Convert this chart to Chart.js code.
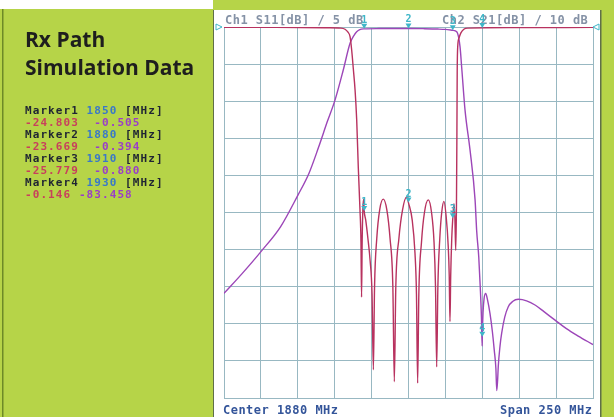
<!DOCTYPE html>
<html>
<head>
<meta charset="utf-8">
<title>Rx Path Simulation Data</title>
<script src="https://cdn.jsdelivr.net/npm/chart.js@4.4.0/dist/chart.umd.min.js"></script>
<style>
  html, body { margin: 0; padding: 0; background: #b6d448; }
  canvas { display: block; }
</style>
</head>
<body>
<canvas id="vna" width="614" height="417"></canvas>
<script>
'use strict';

// ─────────────────────────────────────────────
// 1. DATA
// ─────────────────────────────────────────────
const centerMHz = 1880;
const spanMHz   = 250;
const s11PerDiv = 5;    // dB / div
const s21PerDiv = 10;   // dB / div
const divisions = 10;

// S11 – return loss (crimson trace)
const s11Freq = [
  1755, 1790, 1825, 1834, 1837, 1839, 1840.4, 1841.5, 1842.6, 1843.8,
  1844.9, 1846.0, 1847.1, 1847.8, 1848.2, 1848.6, 1849.1, 1849.6, 1850.0, 1851.0,
  1852.5, 1854.0, 1855.3, 1856.2, 1857.0, 1858.5, 1860.5, 1862.9, 1865.3, 1867.5,
  1869.4, 1870.4, 1871.4, 1873.5, 1876.0, 1878.8, 1880.0, 1882.5, 1884.4, 1885.4,
  1886.2, 1887.0, 1888.8, 1890.8, 1893.4, 1895.6, 1897.3, 1898.3, 1899.1, 1899.9,
  1901.2, 1902.5, 1904.0, 1905.5, 1906.9, 1907.6, 1908.1, 1908.6, 1909.3, 1910.0,
  1910.8, 1911.4, 1912.0, 1912.5, 1912.8, 1913.0, 1913.4, 1914.2, 1915.5, 1917.5,
  1920, 1950, 2005,
];
const s11Db = [
  -0.05, -0.05, -0.1, -0.15, -0.3, -0.7, -1.3, -3.1, -5.6, -8.5,
  -12.5, -19.0, -24.5, -29.0, -36.4, -29.0, -24.5, -23.2, -24.8, -26.0,
  -28.5, -31.5, -36.0, -46.2, -35.0, -28.5, -24.6, -23.2, -24.6, -28.5,
  -35.0, -47.8, -35.0, -28.5, -24.6, -22.9, -23.7, -26.0, -30.5, -36.0,
  -48.0, -36.0, -29.0, -25.0, -23.3, -25.0, -29.0, -35.0, -45.8, -35.0,
  -28.5, -25.0, -23.5, -25.5, -29.5, -33.5, -39.7, -33.5, -28.5, -25.8,
  -23.8, -25.5, -30.1, -24.0, -14.0, -6.0, -2.5, -1.5, -0.8, -0.3,
  -0.15, -0.08, -0.05,
];

// S21 – insertion loss (purple trace)
const s21Freq = [
  1755, 1767.4, 1779.9, 1793.4, 1805.1, 1812.6, 1819.0, 1825.0, 1830.2, 1835.8,
  1840.4, 1843.0, 1844.9, 1847.0, 1850.0, 1860.0, 1870.0, 1880.0, 1890.0, 1900.0,
  1905.0, 1910.0, 1912.7, 1914.9, 1916.0, 1918.3, 1921.7, 1925.1, 1926.2, 1927.6,
  1928.6, 1929.4, 1929.9, 1930.0, 1930.5, 1931.2, 1932.3, 1933.5, 1935.2, 1936.8,
  1938.1, 1939.2, 1939.8, 1940.4, 1940.8, 1942.0, 1943.1, 1945.2, 1947.6, 1950.5,
  1954.4, 1960.0, 1966.0, 1972.0, 1979.3, 1987.0, 1995.0, 2005.0,
];
const s21Db = [
  -71.8, -66.4, -60.6, -53.8, -45.3, -39.4, -32.5, -25.5, -19.7, -11.6,
  -4.4, -2.3, -1.3, -0.7, -0.505, -0.42, -0.4, -0.394, -0.45, -0.55,
  -0.65, -0.88, -1.3, -5.3, -10.7, -22.4, -33.2, -46.6, -55.0, -62.0,
  -70.0, -78.0, -86.0, -83.5, -77.0, -73.2, -71.8, -73.5, -77.2, -82.0,
  -87.1, -92.0, -98.0, -95.0, -91.6, -86.0, -82.6, -78.2, -75.4, -74.0,
  -73.4, -73.8, -75.0, -76.8, -79.0, -81.3, -83.3, -85.6,
];

// markers
const markerFreq = [1850, 1880, 1910, 1930];
const markerS11  = [-24.803, -23.669, -25.779, -0.146];
const markerS21  = [-0.505, -0.394, -0.880, -83.458];

// ─────────────────────────────────────────────
// 2. COLOURS & HELPERS
// ─────────────────────────────────────────────
const GREEN    = '#b6d448';
const GRID     = '#98b8c2';
const S11_COL  = '#b8325f';
const S21_COL  = '#9c46b8';
const MARK_COL = '#3fb6c8';
const PITCH    = 7.7;

const fMin = centerMHz - spanMHz / 2;
const fMax = centerMHz + spanMHz / 2;

function mono(ctx, text, x, y, color) {
  ctx.fillStyle = color;
  for (let i = 0; i < text.length; i++) {
    ctx.fillText(text[i], x + i * PITCH, y);
  }
}

// ─────────────────────────────────────────────
// 3. BACKDROP + TEXT PLUGIN
// ─────────────────────────────────────────────
const vnaScreen = {
  id: 'vnaScreen',
  beforeDraw(chart) {
    const { ctx } = chart;
    ctx.save();
    ctx.fillStyle = GREEN;
    ctx.fillRect(0, 0, 614, 417);
    ctx.fillStyle = '#ffffff';
    ctx.fillRect(0, 0, 213, 9);
    ctx.fillStyle = '#6d8a26';
    ctx.fillRect(2, 9, 1.5, 408);

    // analyzer screen
    ctx.fillStyle = '#ffffff';
    ctx.fillRect(214, 10, 387, 407);
    ctx.fillStyle = '#5f6f48';
    ctx.fillRect(213, 10, 1, 407);
    ctx.fillRect(600, 10, 1.5, 407);

    // left panel title
    ctx.fillStyle = '#1e1e1e';
    ctx.font = 'bold 21px "Open Sans"';
    ctx.textBaseline = 'alphabetic';
    ctx.fillText('Rx Path', 25, 47);
    ctx.fillText('Simulation Data', 25, 75);

    // marker readout
    ctx.font = 'bold 11px "DejaVu Sans Mono"';
    markerFreq.forEach((f, i) => {
      const y = 114 + i * 24;
      mono(ctx, 'Marker' + (i + 1), 25, y, '#1f2433');
      mono(ctx, String(f), 25 + 8 * PITCH, y, '#3a78c8');
      mono(ctx, '[MHz]', 25 + 13 * PITCH, y, '#1f2433');
      const a = markerS11[i].toFixed(3);
      const b = markerS21[i].toFixed(3);
      mono(ctx, a, 25, y + 12, '#c8405c');
      mono(ctx, b, 25 + (a.length + (a.length > 6 ? 2 : 1)) * PITCH, y + 12, '#9a3ec8');
    });
    ctx.restore();
  },
  afterDraw(chart) {
    const { ctx, chartArea: area } = chart;
    const xs = chart.scales.x, y1 = chart.scales.y, y2 = chart.scales.y2;
    ctx.save();

    // header / footer
    ctx.font = 'bold 12px "DejaVu Sans Mono"';
    mono(ctx, 'Ch1 S11[dB] / ' + s11PerDiv + ' dB', 225, 24, '#8592a6');
    mono(ctx, 'Ch2 S21[dB] / ' + s21PerDiv + ' dB', 442, 24, '#8592a6');
    mono(ctx, 'Center ' + centerMHz + ' MHz', 223, 414, '#34559a');
    mono(ctx, 'Span ' + spanMHz + ' MHz', 500, 414, '#34559a');

    // reference level arrows
    ctx.strokeStyle = MARK_COL;
    ctx.lineWidth = 1;
    ctx.beginPath();
    ctx.moveTo(216, area.top - 3); ctx.lineTo(222, area.top); ctx.lineTo(216, area.top + 3); ctx.closePath();
    ctx.moveTo(599, area.top - 3); ctx.lineTo(593, area.top); ctx.lineTo(599, area.top + 3); ctx.closePath();
    ctx.stroke();

    // markers on both traces
    ctx.font = 'bold 10px "DejaVu Sans Mono"';
    ctx.textAlign = 'center';
    const tag = (px, py, n) => {
      ctx.fillStyle = MARK_COL;
      ctx.beginPath();
      ctx.moveTo(px - 3, py - 5); ctx.lineTo(px + 3, py - 5); ctx.lineTo(px, py); ctx.closePath();
      ctx.fill();
      ctx.fillText(String(n), px, py - 6);
    };
    markerFreq.forEach((f, i) => {
      const px = xs.getPixelForValue(f);
      tag(px, y1.getPixelForValue(markerS11[i]), i + 1);
      tag(px, y2.getPixelForValue(markerS21[i]), i + 1);
    });
    ctx.restore();
  },
};

// ─────────────────────────────────────────────
// 4. CHART
// ─────────────────────────────────────────────
const toPoints = (fs, ds) => fs.map((f, i) => ({ x: f, y: ds[i] }));

new Chart(document.getElementById('vna').getContext('2d'), {
  type: 'line',
  data: {
    datasets: [
      {
        label: 'S11',
        data: toPoints(s11Freq, s11Db),
        yAxisID: 'y',
        borderColor: S11_COL,
        borderWidth: 1.4,
        pointRadius: 0,
        cubicInterpolationMode: 'monotone',
      },
      {
        label: 'S21',
        data: toPoints(s21Freq, s21Db),
        yAxisID: 'y2',
        borderColor: S21_COL,
        borderWidth: 1.4,
        pointRadius: 0,
        cubicInterpolationMode: 'monotone',
      },
    ],
  },
  options: {
    responsive: false,
    devicePixelRatio: 1,
    animation: false,
    layout: { padding: { left: 224, right: 21, top: 27, bottom: 19 } },
    plugins: { legend: { display: false }, tooltip: { enabled: false } },
    scales: {
      x: {
        type: 'linear',
        min: fMin,
        max: fMax,
        ticks: { display: false, stepSize: spanMHz / divisions },
        grid: { color: GRID, drawTicks: false },
        border: { color: GRID },
      },
      y: {
        min: -s11PerDiv * divisions,
        max: 0,
        ticks: { display: false, stepSize: s11PerDiv },
        grid: { color: GRID, drawTicks: false },
        border: { color: GRID },
      },
      y2: {
        display: false,
        min: -s21PerDiv * divisions,
        max: 0,
      },
    },
  },
  plugins: [vnaScreen],
});
</script>
</body>
</html>
